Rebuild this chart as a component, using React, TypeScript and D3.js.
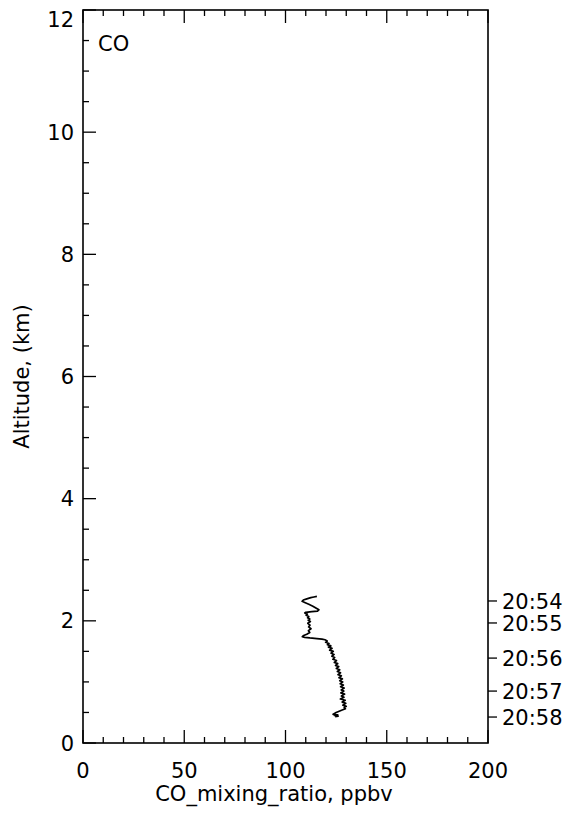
import React from "react";
import * as d3 from "d3";

const altitudeKm: number[] = [
  2.40, 2.39, 2.38, 2.36, 2.34, 2.32, 2.30, 2.27, 2.24, 2.21, 2.18, 2.16, 2.15, 2.14, 2.13, 2.11,
  2.09, 2.07, 2.05, 2.03, 2.01, 1.99, 1.96, 1.93, 1.90, 1.87, 1.84, 1.81, 1.78, 1.76, 1.74, 1.73,
  1.72, 1.71, 1.70, 1.69, 1.67, 1.65, 1.63, 1.61, 1.59, 1.57, 1.55, 1.52, 1.50, 1.47, 1.45, 1.42,
  1.40, 1.37, 1.35, 1.32, 1.30, 1.27, 1.25, 1.22, 1.20, 1.17, 1.15, 1.12, 1.10, 1.07, 1.05, 1.02,
  1.00, 0.97, 0.95, 0.92, 0.90, 0.87, 0.85, 0.82, 0.80, 0.77, 0.75, 0.72, 0.70, 0.67, 0.65, 0.62,
  0.60, 0.58, 0.56, 0.54, 0.52, 0.50, 0.48, 0.47, 0.46, 0.45, 0.44, 0.43,
];
const coPpbv: number[] = [
  115.5, 114.0, 112.5, 110.5, 108.8, 108.2, 109.5, 111.5, 113.5, 115.0, 116.5, 115.8, 113.0, 110.0, 109.5, 110.8,
  110.2, 111.5, 110.9, 112.0, 111.2, 112.3, 111.0, 112.1, 111.4, 112.6, 111.3, 112.0, 110.5, 109.0, 108.3, 109.5,
  112.0, 115.5, 118.0, 119.5, 120.6, 119.8, 121.5, 120.7, 122.4, 121.2, 123.0, 121.8, 123.6, 122.5, 124.0, 122.9,
  124.3, 123.4, 125.2, 124.1, 125.8, 124.7, 126.3, 125.1, 126.8, 125.6, 127.2, 125.9, 127.6, 126.4, 128.1, 126.8,
  128.3, 127.0, 128.6, 127.2, 129.0, 127.5, 128.8, 127.3, 129.2, 127.6, 128.9, 127.1, 129.5, 128.0, 129.8, 128.3,
  130.0, 129.0, 129.6, 128.0, 126.5, 125.0, 124.0, 123.5, 125.8, 124.2, 126.0, 124.5,
];

const timeLabels: string[] = ["20:54", "20:55", "20:56", "20:57", "20:58"];
const timeAltitudes: number[] = [2.325, 1.965, 1.39, 0.85, 0.425];

const xMajorTicks: number[] = [0, 50, 100, 150, 200];
const yMajorTicks: number[] = [0, 2, 4, 6, 8, 10, 12];

const FONT = "'DejaVu Sans', Verdana, sans-serif";

export default function App() {
  const W = 572, H = 816;
  const left = 83, right = 488, top = 10, bottom = 743;
  const x = d3.scaleLinear().domain([0, 200]).range([left, right]);
  const y = d3.scaleLinear().domain([0, 12]).range([bottom, top]);
  const xMinor = d3.range(0, 201, 10).filter((v) => v % 50 !== 0);
  const yMinor = d3.range(0, 12.01, 0.5).filter((v) => v % 2 !== 0);
  const pts = altitudeKm.map((a, i) => [coPpbv[i], a] as [number, number]);
  const line = d3.line<[number, number]>().x((d) => x(d[0])).y((d) => y(d[1]));
  const fs = 21;
  return (
    <svg width={W} height={H} style={{ position: "absolute", left: 0, top: 0, background: "#fff" }}>
      <rect x={0} y={0} width={W} height={H} fill="#fff" />
      <rect x={left} y={top} width={right - left} height={bottom - top} fill="none" stroke="#000" strokeWidth={1.6} />
      {xMajorTicks.map((v) => (
        <g key={"xm" + v}>
          <line x1={x(v)} x2={x(v)} y1={bottom} y2={bottom - 13} stroke="#000" strokeWidth={1.3} />
          <line x1={x(v)} x2={x(v)} y1={top} y2={top + 13} stroke="#000" strokeWidth={1.3} />
          <text x={x(v)} y={778} textAnchor="middle" fontFamily={FONT} fontSize={fs} fill="#000">{v}</text>
        </g>
      ))}
      {xMinor.map((v) => (
        <g key={"xn" + v}>
          <line x1={x(v)} x2={x(v)} y1={bottom} y2={bottom - 6} stroke="#000" strokeWidth={1.3} />
          <line x1={x(v)} x2={x(v)} y1={top} y2={top + 6} stroke="#000" strokeWidth={1.3} />
        </g>
      ))}
      {yMajorTicks.map((v) => (
        <g key={"ym" + v}>
          <line x1={left} x2={left + 13} y1={y(v)} y2={y(v)} stroke="#000" strokeWidth={1.3} />
          <text x={74} y={Math.max(y(v), 19)} dy="0.36em" textAnchor="end" fontFamily={FONT} fontSize={fs} fill="#000">{v}</text>
        </g>
      ))}
      {yMinor.map((v) => (
        <line key={"yn" + v} x1={left} x2={left + 6} y1={y(v)} y2={y(v)} stroke="#000" strokeWidth={1.3} />
      ))}
      {timeLabels.map((t, i) => (
        <g key={t}>
          <line x1={right} x2={right + 9} y1={y(timeAltitudes[i])} y2={y(timeAltitudes[i])} stroke="#000" strokeWidth={1.3} />
          <text x={502} y={y(timeAltitudes[i])} dy="0.36em" fontFamily={FONT} fontSize={fs} fill="#000">{t}</text>
        </g>
      ))}
      <path d={line(pts) || ""} fill="none" stroke="#000" strokeWidth={1.7} strokeLinejoin="round" />
      <text x={98} y={51} fontFamily={FONT} fontSize={fs} fill="#000">CO</text>
      <text x={274} y={801} textAnchor="middle" fontFamily={FONT} fontSize={fs} fill="#000">CO_mixing_ratio, ppbv</text>
      <text transform={`translate(29,${(top + bottom) / 2}) rotate(-90)`} textAnchor="middle" fontFamily={FONT} fontSize={fs} fill="#000">Altitude, (km)</text>
    </svg>
  );
}
